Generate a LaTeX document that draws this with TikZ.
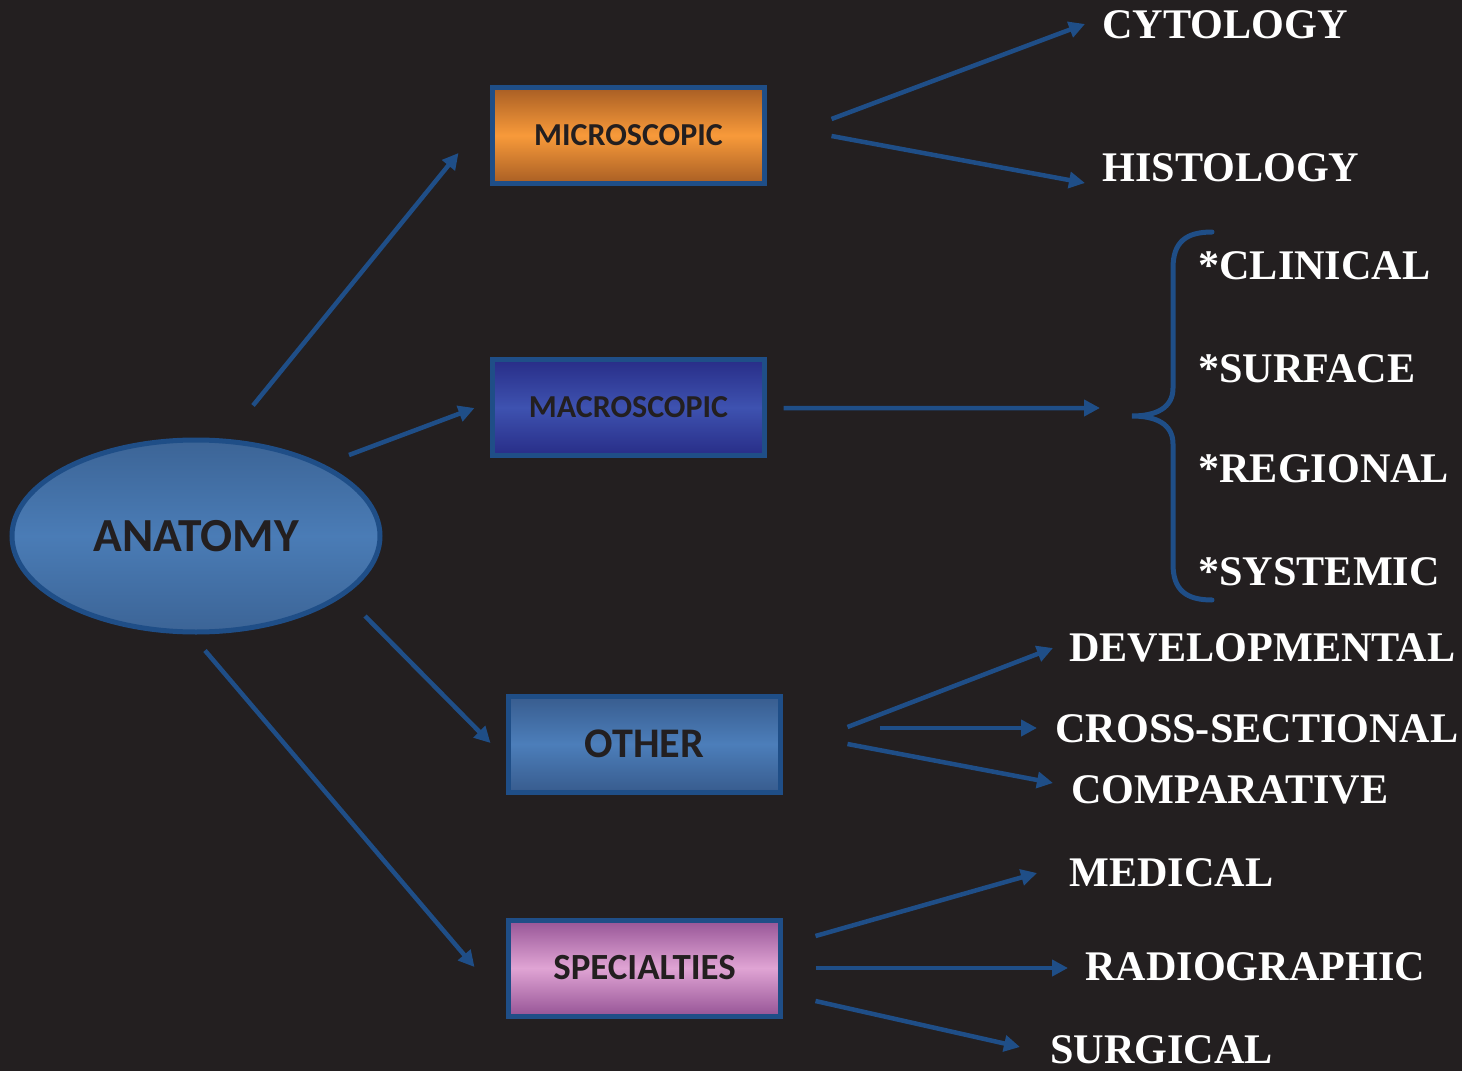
\documentclass[tikz,border=0pt]{standalone}
\usepackage{fontspec}
\setmainfont{Liberation Serif}
\newfontfamily\boxfont{Carlito}
\usetikzlibrary{arrows.meta, positioning, shapes.geometric, calc}
\definecolor{bgdark}{RGB}{35,31,32}
\definecolor{edgeblue}{RGB}{31,78,135}
\definecolor{textdark}{RGB}{35,31,32}
\definecolor{orangedark}{RGB}{168,94,36}
\definecolor{orangelight}{RGB}{248,154,58}
\definecolor{macrodark}{RGB}{40,45,135}
\definecolor{macrolight}{RGB}{62,82,176}
\definecolor{otherdark}{RGB}{56,92,142}
\definecolor{otherlight}{RGB}{76,126,186}
\definecolor{specdark}{RGB}{150,84,150}
\definecolor{speclight}{RGB}{224,164,212}
\definecolor{anatdark}{RGB}{60,100,150}
\definecolor{anatlight}{RGB}{74,124,182}
\tikzset{
    % branch boxes
    catbox/.style 2 args={rectangle, draw=edgeblue, line width=1mm,
                top color=#1, bottom color=#1, middle color=#2,
                minimum width=54.4mm, minimum height=19.2mm, inner sep=0pt,
                font=\boxfont\bfseries, text=textdark},
    % root ellipse
    rootnode/.style={ellipse, draw=edgeblue, line width=1mm,
                top color=anatdark, bottom color=anatdark, middle color=anatlight,
                minimum width=73.6mm, minimum height=38.4mm, inner sep=0pt,
                font=\boxfont\bfseries, text=textdark},
    % white leaf labels
    leaf/.style={anchor=west, inner sep=0pt, text=white,
                font=\bfseries\fontsize{24}{26}\selectfont},
    link/.style={-{Triangle[length=3.2mm, width=3.2mm]}, line width=0.9mm, edgeblue},
    bracket/.style={line width=1mm, edgeblue, line cap=round},
}
\begin{document}
\begin{tikzpicture}[x=0.2mm, y=-0.2mm]
\fill[bgdark] (0,0) rectangle (1462,1071);
\useasboundingbox (0,0) rectangle (1462,1071);

\node[rootnode] (anatomy) at (196,536) {\fontsize{27}{29}\selectfont ANATOMY};
\node[catbox={orangedark}{orangelight}] (micro) at (628.5,135.5) {\fontsize{18.2}{20}\selectfont MICROSCOPIC};
\node[catbox={macrodark}{macrolight}]   (macro) at (628.5,407.5) {\fontsize{18.2}{20}\selectfont MACROSCOPIC};
\node[catbox={otherdark}{otherlight}]   (other) at (644.5,744)   {\fontsize{24}{26}\selectfont OTHER};
\node[catbox={specdark}{speclight}]     (spec)  at (644.5,968)   {\fontsize{21}{23}\selectfont SPECIALTIES};

% leaves
\node[leaf] (cyto)  at (1102,25)  {CYTOLOGY};
\node[leaf] (histo) at (1102,168) {HISTOLOGY};
\node[leaf] (clin)  at (1198,266) {*CLINICAL};
\node[leaf] (surf)  at (1198,369) {*SURFACE};
\node[leaf] (regio) at (1198,469) {*REGIONAL};
\node[leaf] (syst)  at (1198,572) {*SYSTEMIC};
\node[leaf] (devel) at (1069,648) {DEVELOPMENTAL};
\node[leaf] (cross) at (1055,729) {CROSS-SECTIONAL};
\node[leaf] (compa) at (1071,790) {COMPARATIVE};
\node[leaf] (medic) at (1069,873) {MEDICAL};
\node[leaf] (radio) at (1085,967) {RADIOGRAPHIC};
\node[leaf] (surg)  at (1050,1050) {SURGICAL};

% brace
\coordinate (bracetip) at (1132,416);
\draw[bracket] (1212,232) .. controls (1186,232) and (1173,242) .. (1173,268)
    -- (1173,388) .. controls (1173,408) and (1156,416) .. (bracetip)
    .. controls (1156,416) and (1173,424) .. (1173,444)
    -- (1173,564) .. controls (1173,590) and (1186,600) .. (1212,600);

\draw[link] ($(anatomy.north)+(57,-32)$) -- ($(micro.west)+(-31.5,17.5)$);
\draw[link] ($(anatomy)+(153,-81)$) -- ($(macro.west)+(-15.5,0.5)$);
\draw[link] ($(anatomy)+(169,80)$) -- ($(other.west)+(-15.5,-1)$);
\draw[link] ($(anatomy.south)+(9,16)$) -- ($(spec.west)+(-31.5,-1)$);

\draw[link] ($(micro.east)+(64.5,-16.5)$) -- ($(cyto.west)+(-17,-1)$);
\draw[link] ($(micro.east)+(64.5,0.5)$) -- ($(histo.west)+(-17,15)$);
\draw[link] ($(macro.east)+(16.5,0.5)$) -- ($(bracetip)+(-32,-8)$);

\draw[link] ($(other.east)+(64.5,-17)$) -- ($(devel.west)+(-16,0)$);
\draw[link] ($(other.east)+(96.5,-16)$) -- ($(cross.west)+(-18,-1)$);
\draw[link] ($(other.east)+(64.5,0)$) -- ($(compa.west)+(-18,-7)$);

\draw[link] ($(spec.east)+(32.5,-32)$) -- ($(medic.west)+(-32,0)$);
\draw[link] ($(spec.east)+(32.5,0)$) -- ($(radio.west)+(-17,1)$);
\draw[link] ($(spec.east)+(32.5,33)$) -- ($(surg.west)+(-30,-3)$);
\end{tikzpicture}
\end{document}
